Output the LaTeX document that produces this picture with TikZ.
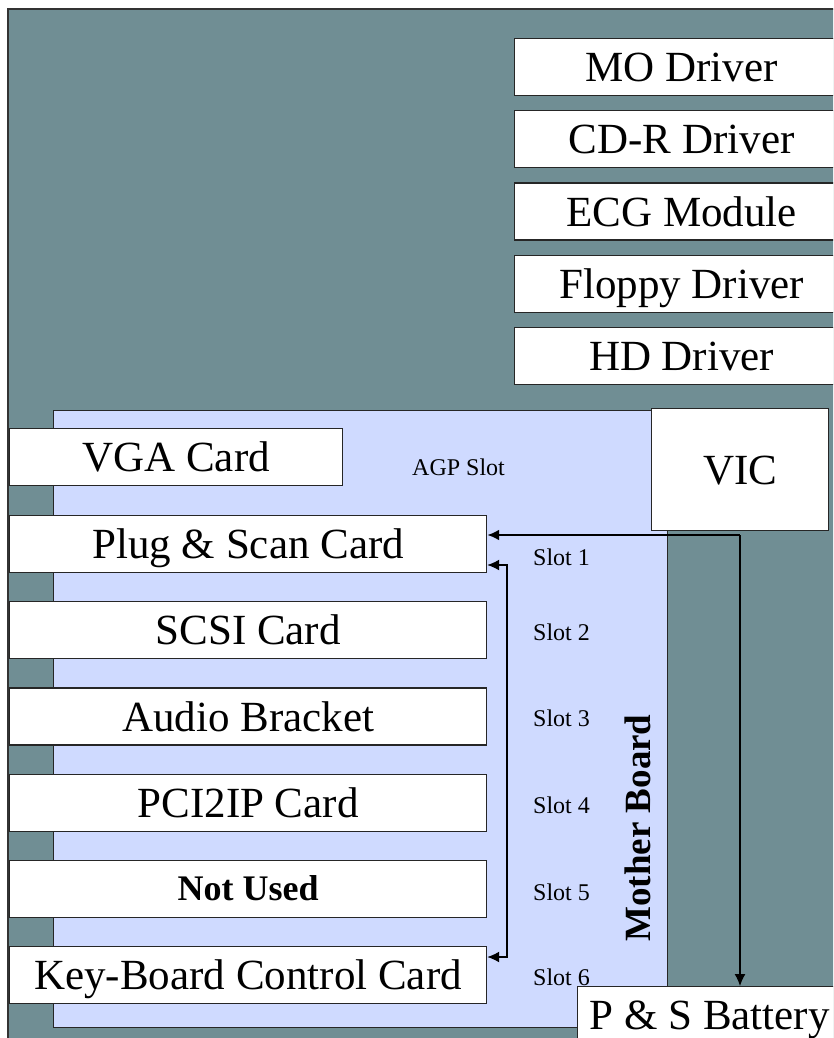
\documentclass[tikz,border=0pt]{standalone}
\usepackage{fontspec}
\setmainfont{Liberation Serif}
\usetikzlibrary{arrows.meta, positioning}
\definecolor{caseteal}{RGB}{112, 142, 148}
\definecolor{boardblue}{RGB}{207, 218, 255}
\tikzstyle{unit} = [draw=black!85, fill=white, line width=1.2pt, font=\fontsize{43}{43}\selectfont, text height=29pt, text depth=0pt, inner sep=0pt, minimum height=57pt, anchor=north west]
\tikzstyle{slotlabel} = [font=\fontsize{24}{24}\selectfont, text height=16pt, text depth=0pt, inner sep=0pt, anchor=west]
\tikzstyle{arrow} = [-{Latex[length=12pt, width=11pt]}, line width=1.3pt]
\tikzstyle{dblarrow} = [{Latex[length=12pt, width=11pt]}-{Latex[length=12pt, width=11pt]}, line width=1.5pt]

\begin{document}
\begin{tikzpicture}[x=1pt, y=-1pt]
    % Case
    \clip (0,0) rectangle (833,1038);
    \fill[white] (0,0) rectangle (833,1038);
    \draw[fill=caseteal, draw=black!80, line width=2pt] (8,9) rectangle (870,1070);

    % Drives
    \node[unit, minimum width=334] (mo) at (514,38) {MO Driver};
    \node[unit, minimum width=334, below=14pt of mo] (cdr) {CD-R Driver};
    \node[unit, minimum width=334, below=14pt of cdr] (ecg) {ECG Module};
    \node[unit, minimum width=334, below=14pt of ecg] (fdd) {Floppy Driver};
    \node[unit, minimum width=334, below=14pt of fdd] (hdd) {HD Driver};

    % Mother board
    \node[draw=black!85, fill=boardblue, line width=1.2pt, minimum width=614, minimum height=617, inner sep=0pt, anchor=north west] (board) at (53,410) {};
    \node[font=\bfseries\fontsize{37}{37}\selectfont, rotate=90, text height=25pt, text depth=0pt, inner sep=0pt] (mblabel) at (638,828) {Mother Board};

    % Cards
    \node[unit, minimum width=333] (vga) at (9,428) {VGA Card};
    \node[unit, minimum width=477] (plug) at (9,515) {Plug \& Scan Card};
    \node[unit, minimum width=477, below=28pt of plug] (scsi) {SCSI Card};
    \node[unit, minimum width=477, below=28pt of scsi] (audio) {Audio Bracket};
    \node[unit, minimum width=477, below=28pt of audio] (pci) {PCI2IP Card};
    \node[unit, minimum width=477, below=28pt of pci, font=\bfseries\fontsize{36}{36}\selectfont, text height=24pt] (unused) {Not Used};
    \node[unit, minimum width=477, below=28pt of unused] (kbd) {Key-Board Control Card};

    % Slots
    \node[slotlabel] (agp) at (412,467) {AGP Slot};
    \node[slotlabel] (s1) at (533,557) {Slot 1};
    \node[slotlabel] (s2) at (533,632) {Slot 2};
    \node[slotlabel] (s3) at (533,718) {Slot 3};
    \node[slotlabel] (s4) at (533,805) {Slot 4};
    \node[slotlabel] (s5) at (533,892) {Slot 5};
    \node[slotlabel] (s6) at (533,977) {Slot 6};

    % VIC and battery
    \node[unit, minimum width=177, minimum height=122] (vic) at (651,408) {VIC};
    \node[unit, minimum width=264] (bat) at (577,986) {P \& S Battery};

    % Wiring
    \coordinate (jn) at (740,535);
    \coordinate (bustop) at (507,565);
    \coordinate (busbot) at (507,957);
    \draw[arrow, line width=2.5pt] (jn) -- (plug.east |- jn);
    \draw[arrow] (jn) -- (jn |- bat.north);
    \draw[dblarrow] (plug.east |- bustop) -- (bustop) -- (busbot) -- (kbd.east |- busbot);
\end{tikzpicture}
\end{document}
